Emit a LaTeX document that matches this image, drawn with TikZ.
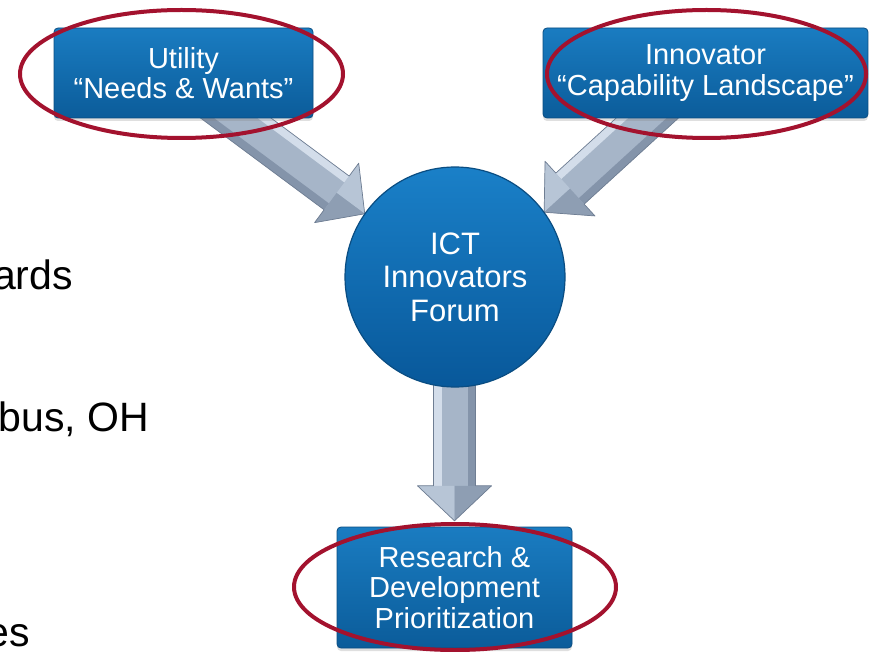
\documentclass[tikz,border=0pt]{standalone}
\usepackage{fontspec}
\setmainfont{Liberation Sans}
\usetikzlibrary{shapes.geometric,shadows,calc}
\definecolor{boxtop}{HTML}{1A7CC1}
\definecolor{boxbot}{HTML}{0B5C9A}
\definecolor{boxedge}{HTML}{0A4D82}
\definecolor{circtop}{HTML}{1A80C8}
\definecolor{circbot}{HTML}{08589A}
\definecolor{ringred}{HTML}{A3122E}
\definecolor{arrmid}{HTML}{A6B5C8}
\definecolor{arrlight}{HTML}{D3DDEA}
\definecolor{arrdark}{HTML}{8494AA}
\definecolor{arredge}{HTML}{6F7E93}
\definecolor{headlight}{HTML}{B7C5D6}
\definecolor{headdark}{HTML}{8E9EB3}
\newcommand\blockarrow[4]{%
  \begin{scope}[shift={#1}, rotate=#2, yscale=#4]
    \fill[arrmid] (0,0) -- (-35,-37) -- (-35,-21) -- (-#3,-21) -- (-#3,21) -- (-35,21) -- (-35,37) -- cycle;
    \fill[arrlight] (-#3,-21) rectangle (-35,-13);
    \fill[arrdark] (-#3,13) rectangle (-35,21);
    \fill[headlight] (0,0) -- (-35,-37) -- (-35,0) -- cycle;
    \fill[headdark] (0,0) -- (-35,37) -- (-35,0) -- cycle;
    \draw[arredge, line width=0.7pt, line join=round] (0,0) -- (-35,-37) -- (-35,-21) -- (-#3,-21) -- (-#3,21) -- (-35,21) -- (-35,37) -- cycle;
  \end{scope}}
\tikzset{
  bluebox/.style={rectangle, rounded corners=4pt, top color=boxtop, bottom color=boxbot,
    draw=boxedge, line width=0.8pt, text=white, align=center, inner sep=0pt,
    font=\fontsize{29}{30.5}\selectfont,
    drop shadow={shadow xshift=0pt, shadow yshift=-3pt, opacity=0.25}},
  hubcircle/.style={circle, minimum size=220pt, inner sep=0pt, top color=circtop, bottom color=circbot,
    draw=boxedge, line width=1.2pt, text=white, align=center,
    font=\fontsize{31}{33.5}\selectfont},
  ring/.style={ellipse, draw=ringred, line width=4pt, inner sep=0pt},
  sidetext/.style={anchor=base east, inner sep=0pt, font=\fontsize{41}{42}\selectfont, text=black}
}
\begin{document}
\begin{tikzpicture}[x=1pt, y=-1pt]
  \fill[white] (0,0) rectangle (869,652);
  \useasboundingbox (0,0) rectangle (869,652);

  % side text (cut off at left)
  \node[sidetext] (t1) at (73,289) {ards};
  \node[sidetext] (t2) at (149,431) {bus, OH};
  \node[sidetext] (t3) at (30,646) {es};

  % positions
  \coordinate (cc) at (455,277);
  \coordinate (rdc) at (454.5,587.5);

  % reference shapes for the arrow ends
  \path (cc) node[circle, minimum size=220pt, inner sep=0pt] (circref) {};
  \path (rdc) node[rectangle, minimum width=235pt, minimum height=121pt, inner sep=0pt] (rdref) {};

  % arrows
  \blockarrow{(circref.145)}{-36.6}{223}{1}
  \blockarrow{(circref.36)}{-137.6}{196}{-1}
  \blockarrow{($(rdref.north)+(0,-6)$)}{-90}{191}{-1}

  % boxes
  \node[bluebox, minimum width=259pt, minimum height=90pt] (util) at (183.5,73) {Utility\\“Needs \& Wants”};
  \node[bluebox, minimum width=325pt, minimum height=90pt] (innov) at (705.5,73) {Innovator\\“Capability Landscape”};
  \node[bluebox, minimum width=235pt, minimum height=121pt] (rd) at (rdc) {Research \&\\Development\\Prioritization};
  \node[hubcircle] (circ) at (cc) {ICT\\Innovators\\Forum};

  % red rings
  \node[ring, minimum width=323pt, minimum height=128pt] (ring1) at (181.5,74) {};
  \node[ring, minimum width=319pt, minimum height=128pt] (ring2) at (706.5,74) {};
  \node[ring, minimum width=322pt, minimum height=126pt] (ring3) at (455,587) {};
\end{tikzpicture}
\end{document}
